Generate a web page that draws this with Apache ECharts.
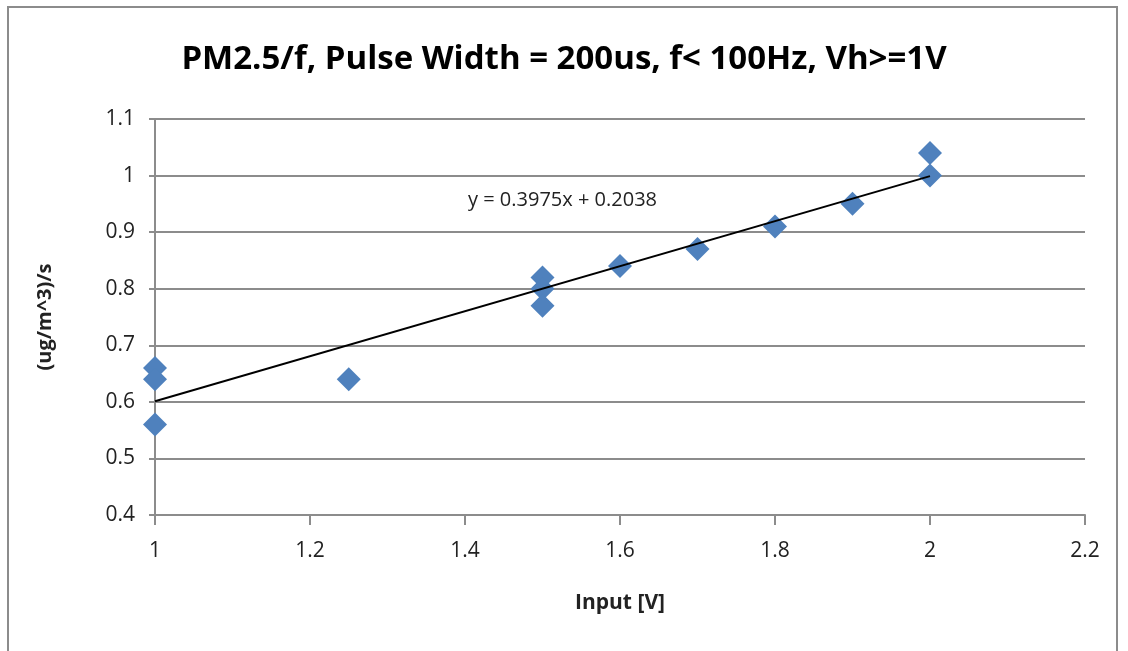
<!DOCTYPE html>
<html>
<head>
<meta charset="UTF-8">
<title>PM2.5/f</title>
<script src="https://cdn.jsdelivr.net/npm/echarts@6/dist/echarts.min.js"></script>
<style>
  html, body { margin: 0; padding: 0; background: #fff; }
  #chart { width: 1128px; height: 651px; }
</style>
</head>
<body>
<div id="chart"></div>
<script>
var inputV = [1, 1, 1, 1.25, 1.5, 1.5, 1.5, 1.6, 1.7, 1.8, 1.9, 2, 2];
var ratio  = [0.66, 0.64, 0.56, 0.64, 0.82, 0.80, 0.77, 0.84, 0.87, 0.91, 0.95, 1.04, 1.0];
// trendline ends (y = 0.3975x + 0.2038)
var trendX = [1, 2];
var trendY = [0.601, 0.999];

var pts = inputV.map(function (x, i) { return [x, ratio[i]]; });
var trend = trendX.map(function (x, i) { return [x, trendY[i]]; });

var font = 'Open Sans';
var chart = echarts.init(document.getElementById('chart'));

var option = {
  animation: false,
  title: {
    text: 'PM2.5/f, Pulse Width = 200us, f< 100Hz, Vh>=1V',
    left: 'center',
    top: 38,
    textStyle: { fontFamily: font, fontWeight: 'bold', fontSize: 33, color: '#000' }
  },
  graphic: [
    {
      type: 'rect',
      shape: { x: 8, y: 7, width: 1109, height: 660 },
      style: { fill: 'none', stroke: '#8c8c8c', lineWidth: 2 }
    },
    {
      type: 'text',
      left: 468, top: 190,
      style: { text: 'y = 0.3975x + 0.2038', fontFamily: font, fontSize: 20, fill: '#222' }
    }
  ],
  grid: { left: 155, top: 119, width: 930, height: 396 },
  xAxis: {
    type: 'value',
    min: 1, max: 2.2, interval: 0.2,
    name: 'Input [V]',
    nameLocation: 'middle',
    nameGap: 78,
    nameTextStyle: { fontFamily: font, fontWeight: 'bold', fontSize: 21, color: '#222' },
    axisLine: { lineStyle: { color: '#8c8c8c', width: 2 } },
    axisTick: { show: true, length: 10, lineStyle: { color: '#8c8c8c', width: 2 } },
    axisLabel: { fontFamily: font, fontSize: 21, color: '#222', margin: 26 },
    splitLine: { show: false }
  },
  yAxis: {
    type: 'value',
    min: 0.4, max: 1.1, interval: 0.1,
    name: '(ug/m^3)/s',
    nameLocation: 'middle',
    nameGap: 100,
    nameTextStyle: { fontFamily: font, fontWeight: 'bold', fontSize: 20, color: '#222' },
    axisLine: { show: true, lineStyle: { color: '#8c8c8c', width: 2 } },
    axisTick: { show: true, length: 6, lineStyle: { color: '#8c8c8c', width: 2 } },
    axisLabel: {
      fontFamily: font, fontSize: 21, color: '#222', margin: 20,
      formatter: function (v) { return String(Math.round(v * 10) / 10); }
    },
    splitLine: { lineStyle: { color: '#8c8c8c', width: 2 } }
  },
  series: [
    {
      name: 'data',
      type: 'scatter',
      data: pts,
      symbol: 'diamond',
      symbolSize: [24, 24],
      itemStyle: { color: '#4f81bd', opacity: 1 },
      z: 3
    },
    {
      name: 'trend',
      type: 'line',
      data: trend,
      symbol: 'none',
      lineStyle: { color: '#000', width: 2 },
      z: 4
    }
  ]
};

chart.setOption(option);
</script>
</body>
</html>
